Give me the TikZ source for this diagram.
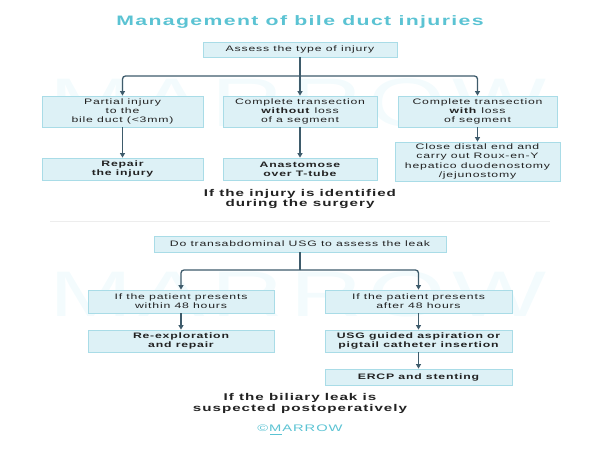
\documentclass[tikz,border=0pt]{standalone}
\usepackage{fontspec}
\usepackage{graphicx}
\setmainfont{Liberation Sans}[FakeStretch=1.55,LetterSpace=10]
\usetikzlibrary{%
  positioning
 ,arrows.meta
}
\definecolor{boxfill}{HTML}{DDF1F6}
\definecolor{boxline}{HTML}{A9DCE7}
\definecolor{arrcol}{HTML}{3E5B6B}
\definecolor{txt}{HTML}{222222}
\definecolor{ttl}{HTML}{5BC3D3}
\definecolor{wm}{HTML}{F3FBFD}
\tikzstyle{bx}=[draw=boxline,fill=boxfill,line width=0.8pt,inner sep=0pt,align=center,text=txt,font=\fontsize{7.9}{9.3}\selectfont]
\tikzstyle{bxb}=[bx,font=\fontsize{7.9}{9.3}\selectfont\bfseries]
\tikzstyle{capt}=[align=center,text=txt,font=\fontsize{9.8}{10.8}\selectfont\bfseries]
\tikzstyle{arr}=[draw=arrcol,line width=1.3pt,rounded corners=3pt,-{Triangle[length=4.5pt,width=5pt]}]
\tikzstyle{ln}=[draw=arrcol,line width=1.3pt]

\begin{document}
\begin{tikzpicture}[x=1pt,y=-1pt]
  \useasboundingbox (0,0) rectangle (600,450);
  % watermark
  \node[text=wm,inner sep=0pt] (wm_1) at (298,103) {\resizebox{497pt}{48pt}{MARROW}};
  \node[text=wm,inner sep=0pt] (wm_2) at (298,294) {\resizebox{497pt}{45pt}{MARROW}};
  \node[text=ttl,font=\fontsize{13.7}{15}\selectfont\bfseries] (title) at (300,22) {Management of bile duct injuries};
  % during the surgery
  \node[bx,minimum width=194pt,minimum height=15pt] (assess) at (300,49.5) {Assess the type of injury};
  \node[bx,minimum width=161pt,minimum height=31pt] (partial) at (122.5,111.5) {Partial injury\\to the\\bile duct (<3mm)};
  \node[bx,minimum width=154pt,minimum height=31pt] (without) at (300,111.5) {Complete transection\\\textbf{without} loss\\of a segment};
  \node[bx,minimum width=159pt,minimum height=31pt] (withloss) at (477.5,111.5) {Complete transection\\\textbf{with} loss\\of segment};
  \node[bxb,minimum width=161pt,minimum height=22pt] (repair) at (122.5,169) {Repair\\the injury};
  \node[bxb,minimum width=154pt,minimum height=22pt] (anast) at (300,169) {Anastomose\\over T-tube};
  \node[bx,minimum width=165pt,minimum height=39pt] (roux) at (477.5,161.5) {Close distal end and\\carry out Roux-en-Y\\hepatico duodenostomy\\/jejunostomy};
  \node[capt] (cap_1) at (300,199) {If the injury is identified\\during the surgery};
  \coordinate (j_1) at (300,76);
  \draw[arr] (assess) -- (without);
  \draw[arr] (j_1) -| (partial);
  \draw[arr] (j_1) -| (withloss);
  \draw[arr] (partial) -- (repair);
  \draw[arr] (without) -- (anast);
  \draw[arr] (withloss) -- (roux);
  \draw[draw=black!7,line width=0.8pt] (50,221) -- (550,221);
  % postoperatively
  \node[bx,minimum width=292pt,minimum height=16pt] (usg) at (300,244) {Do transabdominal USG to assess the leak};
  \node[bx,minimum width=186pt,minimum height=23pt] (within) at (181,301.5) {If the patient presents\\within 48 hours};
  \node[bx,minimum width=187pt,minimum height=23pt] (after) at (418.5,301.5) {If the patient presents\\after 48 hours};
  \node[bxb,minimum width=186pt,minimum height=22pt] (reexp) at (181,341) {Re-exploration\\and repair};
  \node[bxb,minimum width=187pt,minimum height=22pt] (usgasp) at (418.5,341) {USG guided aspiration or\\pigtail catheter insertion};
  \node[bxb,minimum width=187pt,minimum height=16pt] (ercp) at (418.5,377) {ERCP and stenting};
  \node[capt] (cap_2) at (300,403.5) {If the biliary leak is\\suspected postoperatively};
  \coordinate (j_2) at (300,270);
  \draw[ln] (usg) -- (j_2);
  \draw[arr] (j_2) -| (within);
  \draw[arr] (j_2) -| (after);
  \draw[arr] (within) -- (reexp);
  \draw[arr] (after) -- (usgasp);
  \draw[arr] (usgasp) -- (ercp);
  \node[text=ttl,font=\fontsize{9.5}{10}\selectfont] (logo) at (300,428) {©MARROW};
  \draw[draw=ttl,line width=0.8pt] (270,434) -- (282,434);
\end{tikzpicture}
\end{document}
